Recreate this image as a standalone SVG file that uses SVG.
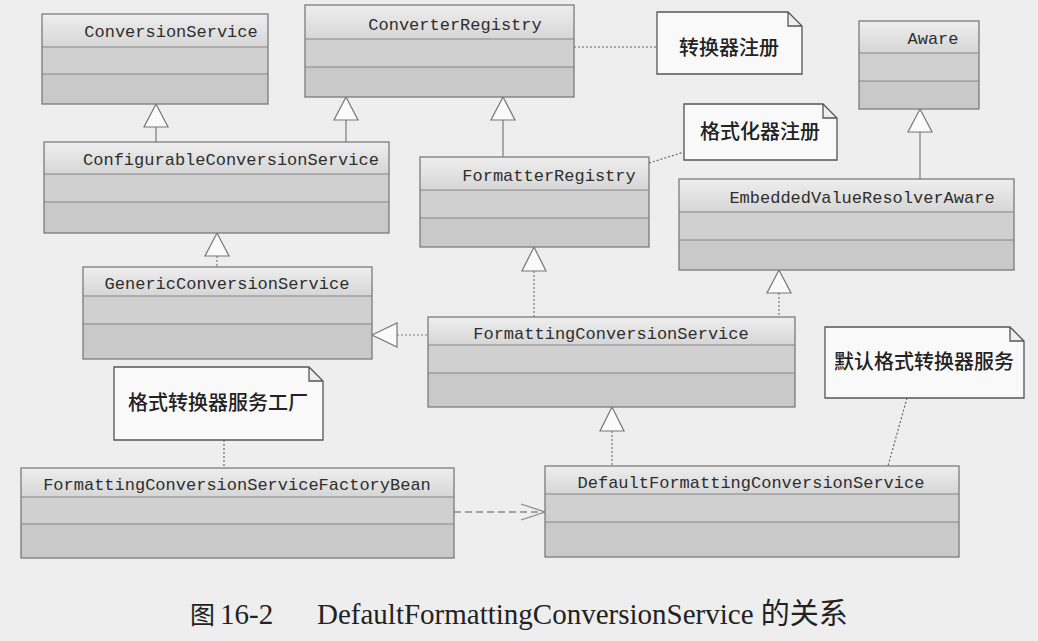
<svg xmlns="http://www.w3.org/2000/svg" width="1038" height="641" viewBox="0 0 1038 641">
<defs>
<linearGradient id="hdr" x1="0" y1="0" x2="0" y2="1">
<stop offset="0" stop-color="#eeeeee"/>
<stop offset="1" stop-color="#d6d6d6"/>
</linearGradient>
<marker id="open" markerWidth="28" markerHeight="20" refX="26" refY="10" orient="auto" markerUnits="userSpaceOnUse">
<path d="M2,2 L26,10 L2,18" fill="none" stroke="#8a8a8a" stroke-width="1.3"/>
</marker>
</defs>
<style>
.bg{fill:#eeeeee}
.hd{fill:url(#hdr);stroke:none}
.s1{fill:#d0d0d0;stroke:none}
.s2{fill:#c9c9c9;stroke:none}
.frame{fill:none;stroke:#7c7c7c;stroke-width:1.3}
.div{stroke:#868686;stroke-width:1.2}
.cls{font-family:"Liberation Mono","DejaVu Sans Mono",monospace;font-size:17px;fill:#2e2e2e;text-anchor:middle}
.note{fill:#f9f9f9;stroke:#555;stroke-width:1.3}
.ntx{font-family:"Noto Sans CJK SC","Noto Sans",sans-serif;font-size:20px;fill:#222;text-anchor:middle;font-weight:500}
.tri{fill:#fafafa;stroke:#777;stroke-width:1.2}
.sol{stroke:#7a7a7a;stroke-width:1.2;fill:none}
.dsh{stroke:#7a7a7a;stroke-width:1.2;fill:none;stroke-dasharray:2 2}
.dot{stroke:#666;stroke-width:1.2;fill:none;stroke-dasharray:2 2}
.dep{stroke:#8a8a8a;stroke-width:1.3;fill:none;stroke-dasharray:7 4}
.cap{font-family:"Liberation Serif","Times New Roman","Noto Sans CJK SC",serif;font-size:29px;fill:#222}
.capz{font-family:"Noto Sans CJK SC",serif;font-size:25px;fill:#222}
</style>
<rect class="bg" x="0" y="0" width="1038" height="641"/>

<g id="connectors">
<line class="sol" x1="156" y1="127" x2="156" y2="142"/>
<polygon class="tri" points="156,104 144,127 168,127"/>
<line class="sol" x1="346" y1="120" x2="346" y2="142"/>
<polygon class="tri" points="346,97 334,120 358,120"/>
<line class="sol" x1="503" y1="120" x2="503" y2="157"/>
<polygon class="tri" points="503,97 491,120 515,120"/>
<line class="sol" x1="920" y1="132" x2="920" y2="179"/>
<polygon class="tri" points="920,109 908,132 932,132"/>
<line class="dsh" x1="217" y1="256" x2="217" y2="267"/>
<polygon class="tri" points="217,233 205,256 229,256"/>
<line class="dsh" x1="534" y1="271" x2="534" y2="317"/>
<polygon class="tri" points="534,247 522,271 546,271"/>
<line class="dsh" x1="779" y1="293" x2="779" y2="317"/>
<polygon class="tri" points="779,270 767,293 791,293"/>
<line class="dsh" x1="397" y1="335" x2="428" y2="335"/>
<polygon class="tri" points="372,335 397,323 397,347"/>
<line class="dsh" x1="612" y1="431" x2="612" y2="466"/>
<polygon class="tri" points="612,407 600,431 624,431"/>
<line class="dep" x1="454" y1="512" x2="545" y2="512" marker-end="url(#open)"/>
<line class="dot" x1="574" y1="47" x2="657" y2="47"/>
<line class="dot" x1="649" y1="163" x2="684" y2="152"/>
<line class="dot" x1="224" y1="440" x2="224" y2="468"/>
<line class="dot" x1="907" y1="398" x2="888" y2="466"/>
</g>

<g id="ConversionService">
<rect class="hd" x="42" y="14" width="226" height="33"/>
<rect class="s1" x="42" y="47" width="226" height="27"/>
<rect class="s2" x="42" y="74" width="226" height="30"/>
<line class="div" x1="42" y1="47" x2="268" y2="47"/><line class="div" x1="42" y1="74" x2="268" y2="74"/>
<rect class="frame" x="42" y="14" width="226" height="90"/>
<text class="cls" x="171" y="37">ConversionService</text>
</g>

<g id="ConverterRegistry">
<rect class="hd" x="305" y="5" width="269" height="34"/>
<rect class="s1" x="305" y="39" width="269" height="28"/>
<rect class="s2" x="305" y="67" width="269" height="30"/>
<line class="div" x1="305" y1="39" x2="574" y2="39"/><line class="div" x1="305" y1="67" x2="574" y2="67"/>
<rect class="frame" x="305" y="5" width="269" height="92"/>
<text class="cls" x="455" y="30">ConverterRegistry</text>
</g>

<g id="Aware">
<rect class="hd" x="859" y="21" width="120" height="32"/>
<rect class="s1" x="859" y="53" width="120" height="28"/>
<rect class="s2" x="859" y="81" width="120" height="28"/>
<line class="div" x1="859" y1="53" x2="979" y2="53"/><line class="div" x1="859" y1="81" x2="979" y2="81"/>
<rect class="frame" x="859" y="21" width="120" height="88"/>
<text class="cls" x="933" y="44">Aware</text>
</g>

<g id="ConfigurableConversionService">
<rect class="hd" x="44" y="142" width="345" height="32"/>
<rect class="s1" x="44" y="174" width="345" height="28"/>
<rect class="s2" x="44" y="202" width="345" height="31"/>
<line class="div" x1="44" y1="174" x2="389" y2="174"/><line class="div" x1="44" y1="202" x2="389" y2="202"/>
<rect class="frame" x="44" y="142" width="345" height="91"/>
<text class="cls" x="231" y="165">ConfigurableConversionService</text>
</g>

<g id="FormatterRegistry">
<rect class="hd" x="420" y="157" width="229" height="33"/>
<rect class="s1" x="420" y="190" width="229" height="28"/>
<rect class="s2" x="420" y="218" width="229" height="29"/>
<line class="div" x1="420" y1="190" x2="649" y2="190"/><line class="div" x1="420" y1="218" x2="649" y2="218"/>
<rect class="frame" x="420" y="157" width="229" height="90"/>
<text class="cls" x="549" y="181">FormatterRegistry</text>
</g>

<g id="EmbeddedValueResolverAware">
<rect class="hd" x="679" y="179" width="335" height="33"/>
<rect class="s1" x="679" y="212" width="335" height="28"/>
<rect class="s2" x="679" y="240" width="335" height="30"/>
<line class="div" x1="679" y1="212" x2="1014" y2="212"/><line class="div" x1="679" y1="240" x2="1014" y2="240"/>
<rect class="frame" x="679" y="179" width="335" height="91"/>
<text class="cls" x="862" y="203">EmbeddedValueResolverAware</text>
</g>

<g id="GenericConversionService">
<rect class="hd" x="83" y="267" width="289" height="29"/>
<rect class="s1" x="83" y="296" width="289" height="28"/>
<rect class="s2" x="83" y="324" width="289" height="35"/>
<line class="div" x1="83" y1="296" x2="372" y2="296"/><line class="div" x1="83" y1="324" x2="372" y2="324"/>
<rect class="frame" x="83" y="267" width="289" height="92"/>
<text class="cls" x="227" y="289">GenericConversionService</text>
</g>

<g id="FormattingConversionService">
<rect class="hd" x="428" y="317" width="367" height="28"/>
<rect class="s1" x="428" y="345" width="367" height="28"/>
<rect class="s2" x="428" y="373" width="367" height="34"/>
<line class="div" x1="428" y1="345" x2="795" y2="345"/><line class="div" x1="428" y1="373" x2="795" y2="373"/>
<rect class="frame" x="428" y="317" width="367" height="90"/>
<text class="cls" x="611" y="339">FormattingConversionService</text>
</g>

<g id="FormattingConversionServiceFactoryBean">
<rect class="hd" x="21" y="468" width="433" height="29"/>
<rect class="s1" x="21" y="497" width="433" height="27"/>
<rect class="s2" x="21" y="524" width="433" height="34"/>
<line class="div" x1="21" y1="497" x2="454" y2="497"/><line class="div" x1="21" y1="524" x2="454" y2="524"/>
<rect class="frame" x="21" y="468" width="433" height="90"/>
<text class="cls" x="237" y="490">FormattingConversionServiceFactoryBean</text>
</g>

<g id="DefaultFormattingConversionService">
<rect class="hd" x="545" y="466" width="414" height="28"/>
<rect class="s1" x="545" y="494" width="414" height="28"/>
<rect class="s2" x="545" y="522" width="414" height="35"/>
<line class="div" x1="545" y1="494" x2="959" y2="494"/><line class="div" x1="545" y1="522" x2="959" y2="522"/>
<rect class="frame" x="545" y="466" width="414" height="91"/>
<text class="cls" x="751" y="488">DefaultFormattingConversionService</text>
</g>

<g id="note-converter">
<path class="note" d="M657,12 H788 L802,26 V74 H657 Z M788,12 V26 H802"/>
<text class="ntx" x="729" y="55">转换器注册</text>
</g>

<g id="note-formatter">
<path class="note" d="M684,104 H823 L837,118 V160 H684 Z M823,104 V118 H837"/>
<text class="ntx" x="760" y="139">格式化器注册</text>
</g>

<g id="note-factory">
<path class="note" d="M114,367 H309 L323,381 V440 H114 Z M309,367 V381 H323"/>
<text class="ntx" x="218" y="410">格式转换器服务工厂</text>
</g>

<g id="note-default">
<path class="note" d="M825,327 H1010 L1024,341 V398 H825 Z M1010,327 V341 H1024"/>
<text class="ntx" x="924" y="369">默认格式转换器服务</text>
</g>

<text class="cap" y="624"><tspan class="capz" x="190">图</tspan><tspan x="220">16-2</tspan><tspan x="317">DefaultFormattingConversionService 的关系</tspan></text>
</svg>
